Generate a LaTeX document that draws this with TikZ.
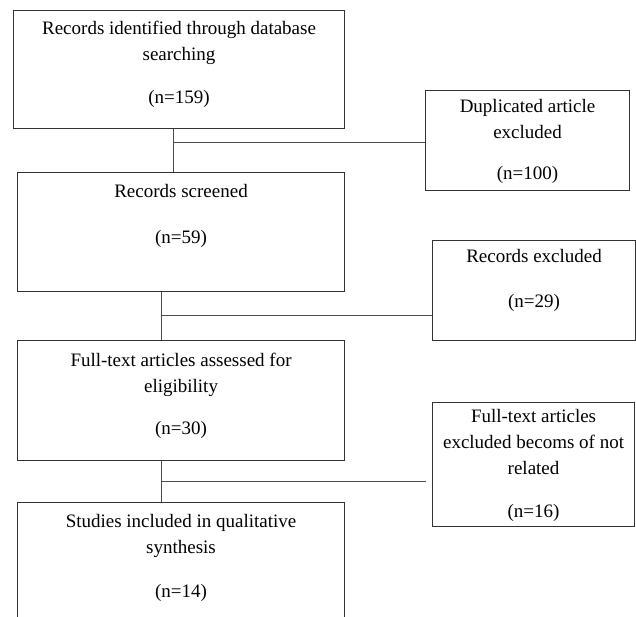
\documentclass[tikz,border=0pt]{standalone}
\usepackage{fontspec}
\setmainfont{Liberation Serif}
\usetikzlibrary{positioning}

\tikzset{
  box/.style={draw=black!80, line width=1.1pt, rectangle, anchor=north west, inner sep=0pt},
  txt/.style={align=center, inner sep=0pt, font=\fontsize{19}{26}\selectfont},
  link/.style={draw=black!70, line width=0.9pt}
}

\begin{document}
\begin{tikzpicture}[x=1pt,y=-1pt]
        \clip (0,0) rectangle (636,617);

        % Left column boxes
        \node[box, minimum width=331pt, minimum height=118pt] (ident) at (13,10) {};
        \node[box, minimum width=327pt, minimum height=119pt] (screen) at (17,172) {};
        \node[box, minimum width=327pt, minimum height=120pt] (full) at (17,340) {};
        \node[box, minimum width=327pt, minimum height=140pt] (incl) at (17,502) {};

        % Right column boxes
        \node[box, minimum width=204pt, minimum height=100pt] (dup) at (425,90) {};
        \node[box, minimum width=203pt, minimum height=100pt] (rexcl) at (432,240) {};
        \node[box, minimum width=202pt, minimum height=124pt] (fexcl) at (432,402) {};

        % Labeling Boxes
        \node[txt, below=11pt of ident.north] (ident-t) {Records identified through database\\ searching\\[17pt] (n=159)};
        \node[txt, below=12pt of screen.north] (screen-t) {Records screened\\[20pt] (n=59)};
        \node[txt, below=13pt of full.north] (full-t) {Full-text articles assessed for\\ eligibility\\[16pt] (n=30)};
        \node[txt, below=12pt of incl.north] (incl-t) {Studies included in qualitative\\ synthesis\\[18pt] (n=14)};
        \node[txt, below=9pt of dup.north] (dup-t) {Duplicated article\\ excluded\\[15pt] (n=100)};
        \node[txt, below=9pt of rexcl.north] (rexcl-t) {Records excluded\\[19pt] (n=29)};
        \node[txt, below=7pt of fexcl.north] (fexcl-t) {Full-text articles\\ excluded becoms of not\\ related\\[17pt] (n=16)};

        % Connectors
        \coordinate (j1) at (173,142);
        \draw[link] (ident.south -| j1) -- (screen.north -| j1);
        \draw[link] (j1) -- (j1 -| dup.west);

        \coordinate (j2) at (161,315);
        \draw[link] (screen.south -| j2) -- (full.north -| j2);
        \draw[link] (j2) -- (j2 -| rexcl.west);

        \coordinate (j3) at (161,481);
        \draw[link] (full.south -| j3) -- (incl.north -| j3);
        \draw[link, shorten >=6pt] (j3) -- (j3 -| fexcl.west);

    \end{tikzpicture}
\end{document}
